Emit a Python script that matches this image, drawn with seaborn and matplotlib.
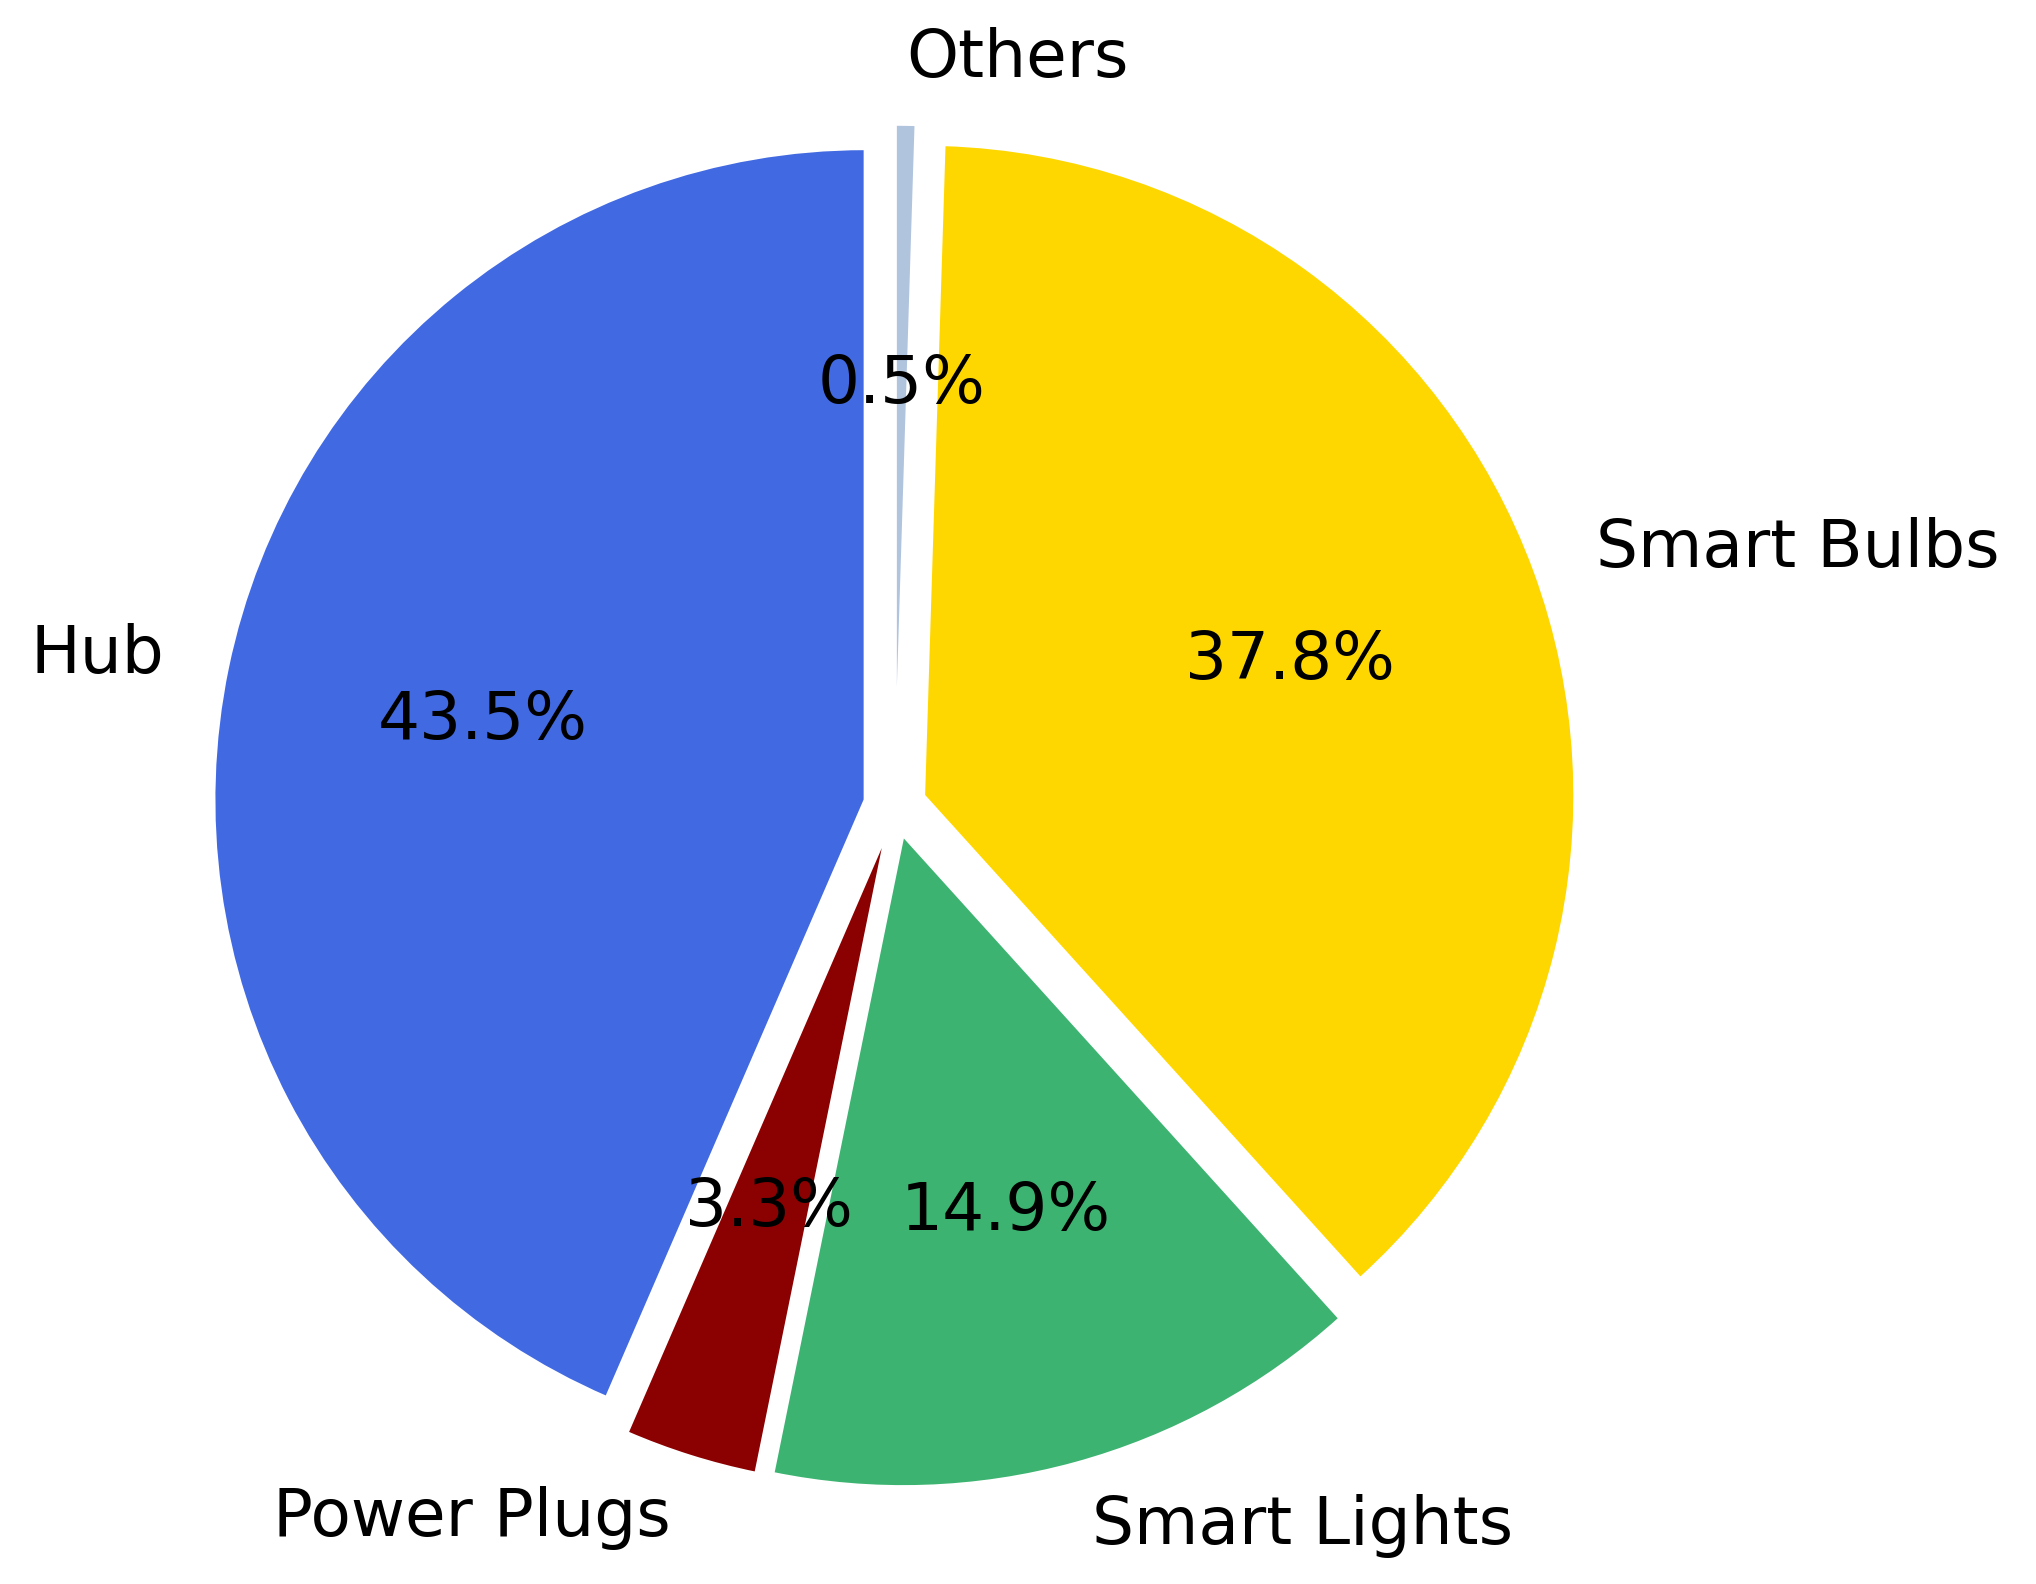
import matplotlib
matplotlib.use("Agg")
import matplotlib.pyplot as plt
import seaborn as sns

# data
labels = ["Hub", "Power Plugs", "Smart Lights", "Smart Bulbs", "Others"]
shares = [43.5, 3.3, 14.9, 37.8, 0.5]
colors = ["royalblue", "darkred", "mediumseagreen", "gold", "lightsteelblue"]
explode = [0.047, 0.047, 0.047, 0.047, 0.047]

sns.set_style("white")

fig = plt.figure(figsize=(10.18, 7.92), dpi=200)
ax = fig.add_axes([0, 0, 1, 1])

ax.pie(
    shares,
    labels=labels,
    colors=colors,
    explode=explode,
    autopct="%1.1f%%",
    startangle=90,
    wedgeprops={"edgecolor": "white", "linewidth": 1.0},
    textprops={"fontsize": 23.8, "color": "black"},
)

# place the pie where it sits in the reference
ax.set_xlim(-1.3748, 1.7527)
ax.set_ylim(-1.1951, 1.2381)
ax.set_aspect("equal")
ax.axis("off")

fig.savefig("out.png", dpi=200)
plt.close(fig)
